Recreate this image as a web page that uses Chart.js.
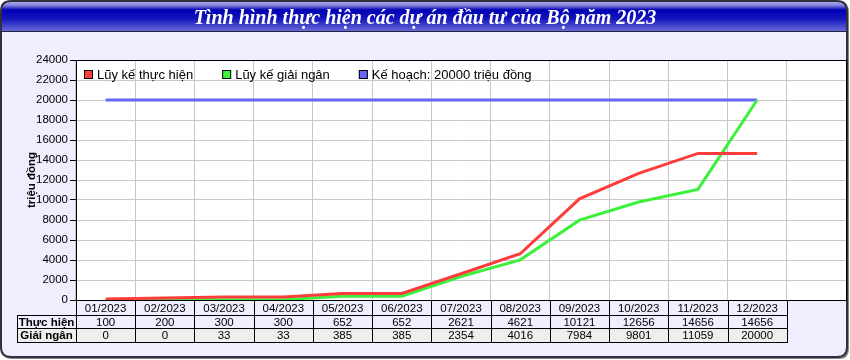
<!DOCTYPE html>
<html>
<head>
<meta charset="utf-8">
<script src="https://cdn.jsdelivr.net/npm/chart.js@4"></script>
<style>
html, body { margin: 0; padding: 0; background: #fff; }
</style>
</head>
<body>
<canvas id="planChart" width="850" height="360"></canvas>
<script>
// data
const chartTitle = "Tình hình thực hiện các dự án đầu tư của Bộ năm 2023";
const months = ["01/2023", "02/2023", "03/2023", "04/2023", "05/2023", "06/2023",
  "07/2023", "08/2023", "09/2023", "10/2023", "11/2023", "12/2023"];
const thucHien = [100, 200, 300, 300, 652, 652, 2621, 4621, 10121, 12656, 14656, 14656];
const giaiNgan = [0, 0, 33, 33, 385, 385, 2354, 4016, 7984, 9801, 11059, 20000];
const keHoach = [20000, 20000, 20000, 20000, 20000, 20000, 20000, 20000, 20000, 20000, 20000, 20000];
const seriesNames = ["Lũy kế thực hiện", "Lũy kế giải ngân", "Kế hoạch: 20000 triệu đồng"];
const rowNames = ["Thực hiện", "Giải ngân"];
const yTicks = [0, 2000, 4000, 6000, 8000, 10000, 12000, 14000, 16000, 18000, 20000, 22000, 24000];
const yTitle = "triệu đồng";

const FONT = "'Liberation Sans', Arial, sans-serif";

function roundRect(ctx, x, y, w, h, r) {
  ctx.beginPath();
  ctx.moveTo(x + r, y);
  ctx.lineTo(x + w - r, y);
  ctx.quadraticCurveTo(x + w, y, x + w, y + r);
  ctx.lineTo(x + w, y + h - r);
  ctx.quadraticCurveTo(x + w, y + h, x + w - r, y + h);
  ctx.lineTo(x + r, y + h);
  ctx.quadraticCurveTo(x, y + h, x, y + h - r);
  ctx.lineTo(x, y + r);
  ctx.quadraticCurveTo(x, y, x + r, y);
  ctx.closePath();
}

// panel, title bar and white plot background
const panelPlugin = {
  id: "panel",
  beforeDraw(chart) {
    const ctx = chart.ctx;
    const a = chart.chartArea;
    ctx.save();
    ctx.fillStyle = "#ffffff";
    ctx.fillRect(0, 0, chart.width, chart.height);
    // shadow
    roundRect(ctx, 2, 2, 847, 357, 10);
    ctx.fillStyle = "#888";
    ctx.fill();
    roundRect(ctx, 1, 1, 846, 356, 10);
    ctx.fillStyle = "#eeeefe";
    ctx.fill();
    // title bar
    ctx.save();
    roundRect(ctx, 1, 1, 846, 356, 10);
    ctx.clip();
    const g = ctx.createLinearGradient(0, 0, 0, 31);
    g.addColorStop(0, "#c0c0ec");
    g.addColorStop(0.18, "#8080dc");
    g.addColorStop(0.32, "#0000b4");
    g.addColorStop(0.6, "#1414bc");
    g.addColorStop(1, "#6868d8");
    ctx.fillStyle = g;
    ctx.fillRect(0, 0, chart.width, 31);
    ctx.fillStyle = "#202040";
    ctx.fillRect(0, 31, chart.width, 1);
    ctx.restore();
    roundRect(ctx, 1, 1, 846, 356, 10);
    ctx.lineWidth = 2;
    ctx.strokeStyle = "#303040";
    ctx.stroke();
    ctx.fillStyle = "#ffffff";
    ctx.font = "italic bold 20px 'Liberation Serif', 'Times New Roman', serif";
    ctx.textAlign = "center";
    ctx.textBaseline = "alphabetic";
    ctx.fillText(chartTitle, 425, 24);
    ctx.fillStyle = "#ffffff";
    ctx.fillRect(a.left, a.top, a.right - a.left, a.bottom - a.top);
    ctx.restore();
  }
};

// plot border, legend and data table
const tablePlugin = {
  id: "table",
  afterDraw(chart) {
    const ctx = chart.ctx;
    const a = chart.chartArea;
    const xs = chart.scales.x;
    ctx.save();
    ctx.strokeStyle = "#000";
    ctx.lineWidth = 1;
    ctx.strokeRect(Math.round(a.left) + 0.5, Math.round(a.top) + 0.5,
      Math.round(a.right - a.left), Math.round(a.bottom - a.top));

    // legend
    ctx.font = "13px " + FONT;
    ctx.textBaseline = "middle";
    ctx.textAlign = "left";
    let lx = a.left + 8;
    const ly = a.top + 10;
    chart.data.datasets.forEach(ds => {
      ctx.fillStyle = ds.borderColor;
      ctx.fillRect(lx, ly, 9, 9);
      ctx.strokeStyle = "#000";
      ctx.strokeRect(lx + 0.5, ly + 0.5, 8, 8);
      ctx.fillStyle = "#000";
      ctx.fillText(ds.label, lx + 13, ly + 5);
      lx += 13 + ctx.measureText(ds.label).width + 29;
    });

    // table
    const half = (xs.getPixelForValue(1) - xs.getPixelForValue(0)) / 2;
    const x0 = Math.round(xs.getPixelForValue(0) - half);
    const x1 = Math.round(xs.getPixelForValue(months.length - 1) + half);
    const labelLeft = 17;
    const rows = [Math.round(a.bottom), 315, 328, 342];
    ctx.fillStyle = "#eeeeee";
    ctx.fillRect(labelLeft, rows[2], x1 - labelLeft, rows[3] - rows[2]);
    ctx.strokeStyle = "#000";
    ctx.beginPath();
    for (let r = 1; r < rows.length; r++) {
      ctx.moveTo(labelLeft, rows[r] + 0.5);
      ctx.lineTo(x1 + 1, rows[r] + 0.5);
    }
    ctx.moveTo(labelLeft + 0.5, rows[1]);
    ctx.lineTo(labelLeft + 0.5, rows[3] + 1);
    for (let i = 0; i <= months.length; i++) {
      const bx = Math.round(xs.getPixelForValue(i) - half) + 0.5;
      ctx.moveTo(bx, rows[0]);
      ctx.lineTo(bx, rows[3] + 1);
    }
    ctx.stroke();

    ctx.fillStyle = "#000";
    ctx.textAlign = "center";
    ctx.font = "11.5px " + FONT;
    months.forEach((m, i) => {
      const cx = xs.getPixelForValue(i);
      ctx.fillText(m, cx, (rows[0] + rows[1]) / 2 + 1);
      ctx.fillText(String(thucHien[i]), cx, (rows[1] + rows[2]) / 2 + 1);
      ctx.fillText(String(giaiNgan[i]), cx, (rows[2] + rows[3]) / 2 + 1);
    });
    ctx.font = "bold 11.5px " + FONT;
    rowNames.forEach((n, r) => {
      ctx.fillText(n, (labelLeft + x0) / 2, (rows[r + 1] + rows[r + 2]) / 2 + 1);
    });
    ctx.restore();
  }
};

new Chart(document.getElementById("planChart"), {
  type: "line",
  data: {
    labels: months.concat([""]),
    datasets: [
      { label: seriesNames[0], data: thucHien, borderColor: "#ff3c3c", borderWidth: 3 },
      { label: seriesNames[1], data: giaiNgan, borderColor: "#3cf03c", borderWidth: 3 },
      { label: seriesNames[2], data: keHoach, borderColor: "#6666f8", borderWidth: 3 }
    ]
  },
  options: {
    responsive: false,
    animation: false,
    layout: { padding: { top: 60, left: 0, right: 4, bottom: 0 } },
    elements: {
      point: { radius: 0 },
      line: { tension: 0, borderCapStyle: "butt" }
    },
    plugins: {
      legend: { display: false },
      tooltip: { enabled: false }
    },
    scales: {
      x: {
        offset: true,
        grid: { color: "#c8c8c8", offset: true, drawTicks: false },
        border: { display: false },
        ticks: { display: false },
        afterFit(s) { s.height = 60; }
      },
      y: {
        min: 0,
        max: 24000,
        afterBuildTicks(s) { s.ticks = yTicks.map(v => ({ value: v })); },
        grid: { color: "#c8c8c8", tickColor: "#000", tickLength: 6 },
        border: { color: "#000" },
        ticks: {
          color: "#000", padding: 2, font: { family: FONT, size: 11.5 },
          callback: v => String(v)
        },
        title: {
          display: true, text: yTitle, color: "#000",
          font: { family: FONT, size: 11.5, weight: "bold" },
          padding: { top: 25, bottom: 0 }
        },
        afterFit(s) { s.width = 76; }
      }
    }
  },
  plugins: [panelPlugin, tablePlugin]
});
</script>
</body>
</html>
